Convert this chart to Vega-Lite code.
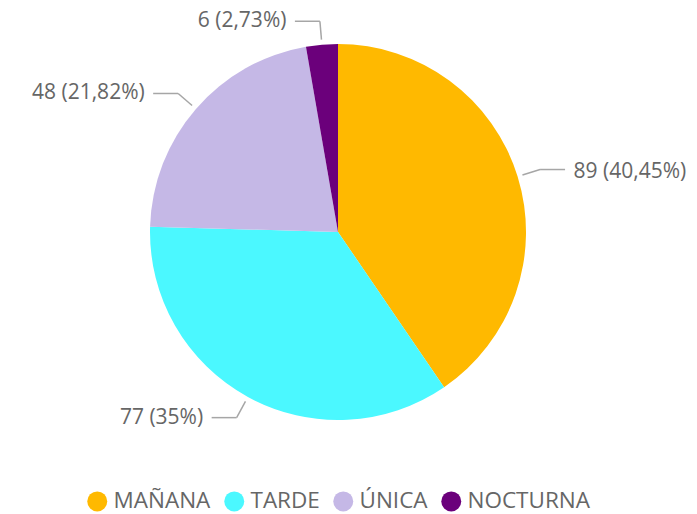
{
  "$schema": "https://vega.github.io/schema/vega-lite/v6.json",
  "width": 676,
  "height": 464,
  "autosize": {"type": "none"},
  "padding": {"left": 0, "top": 0, "right": 21, "bottom": 50},
  "background": "white",
  "config": {"view": {"stroke": null}, "font": "Open Sans"},
  "data": {
    "values": [
      {"cat": "MAÑANA", "value": 89, "label": "89 (40,45%)", "ord": 1},
      {"cat": "TARDE", "value": 77, "label": "77 (35%)", "ord": 2},
      {"cat": "ÚNICA", "value": 48, "label": "48 (21,82%)", "ord": 3},
      {"cat": "NOCTURNA", "value": 6, "label": "6 (2,73%)", "ord": 4}
    ]
  },
  "layer": [
    {
      "mark": {"type": "arc", "outerRadius": 188},
      "encoding": {
        "theta": {"field": "value", "type": "quantitative", "stack": true},
        "order": {"field": "ord", "type": "quantitative"},
        "color": {
          "field": "cat",
          "type": "nominal",
          "scale": {
            "domain": ["MAÑANA", "TARDE", "ÚNICA", "NOCTURNA"],
            "range": ["#FFB900", "#4BF8FF", "#C5B8E6", "#6B007B"]
          },
          "legend": {
            "orient": "none",
            "legendX": 86,
            "legendY": 490,
            "direction": "horizontal",
            "title": null,
            "symbolType": "circle",
            "symbolSize": 400,
            "symbolStrokeWidth": 0,
            "symbolOpacity": 1,
            "labelFontSize": 22.5,
            "labelColor": "#666666",
            "labelFont": "Open Sans",
            "labelLimit": 400,
            "labelOffset": 5,
            "columnPadding": 12
          }
        }
      }
    },
    {
      "transform": [
        {"joinaggregate": [{"op": "sum", "field": "value", "as": "total"}]},
        {"window": [{"op": "sum", "field": "value", "as": "cum"}], "sort": [{"field": "ord"}], "frame": [null, 0]},
        {"calculate": "2*PI*(datum.cum - datum.value/2)/datum.total", "as": "mid"},
        {"calculate": "1.027*sin(datum.mid)", "as": "xs"},
        {"calculate": "1.027*cos(datum.mid)", "as": "ys"},
        {"calculate": "1.125*sin(datum.mid)", "as": "xe"},
        {"calculate": "1.125*cos(datum.mid)", "as": "ye"},
        {"calculate": "datum.xe + (datum.xe >= 0 ? 0.133 : -0.133)", "as": "xh"},
        {"calculate": "datum.xh + (datum.xe >= 0 ? 0.045 : -0.045)", "as": "xt"}
      ],
      "layer": [
        {
          "mark": {"type": "rule", "color": "#A6A6A6", "strokeWidth": 1.5},
          "encoding": {
            "x": {"field": "xs", "type": "quantitative", "scale": {"domain": [-1.7979, 1.7979], "nice": false, "zero": false}, "axis": null},
            "y": {"field": "ys", "type": "quantitative", "scale": {"domain": [-1.234, 1.234], "nice": false, "zero": false}, "axis": null},
            "x2": {"field": "xe"},
            "y2": {"field": "ye"}
          }
        },
        {
          "mark": {"type": "rule", "color": "#A6A6A6", "strokeWidth": 1.5},
          "encoding": {
            "x": {"field": "xe", "type": "quantitative", "scale": {"domain": [-1.7979, 1.7979], "nice": false, "zero": false}, "axis": null},
            "x2": {"field": "xh"},
            "y": {"field": "ye", "type": "quantitative", "scale": {"domain": [-1.234, 1.234], "nice": false, "zero": false}, "axis": null}
          }
        },
        {
          "transform": [{"filter": "datum.xe >= 0"}],
          "mark": {"type": "text", "align": "left", "baseline": "middle", "fontSize": 21, "color": "#666666", "dy": 2},
          "encoding": {
            "x": {"field": "xt", "type": "quantitative", "scale": {"domain": [-1.7979, 1.7979], "nice": false, "zero": false}, "axis": null},
            "y": {"field": "ye", "type": "quantitative", "scale": {"domain": [-1.234, 1.234], "nice": false, "zero": false}, "axis": null},
            "text": {"field": "label"}
          }
        },
        {
          "transform": [{"filter": "datum.xe < 0"}],
          "mark": {"type": "text", "align": "right", "baseline": "middle", "fontSize": 21, "color": "#666666", "dy": 0},
          "encoding": {
            "x": {"field": "xt", "type": "quantitative", "scale": {"domain": [-1.7979, 1.7979], "nice": false, "zero": false}, "axis": null},
            "y": {"field": "ye", "type": "quantitative", "scale": {"domain": [-1.234, 1.234], "nice": false, "zero": false}, "axis": null},
            "text": {"field": "label"}
          }
        }
      ]
    }
  ]
}
